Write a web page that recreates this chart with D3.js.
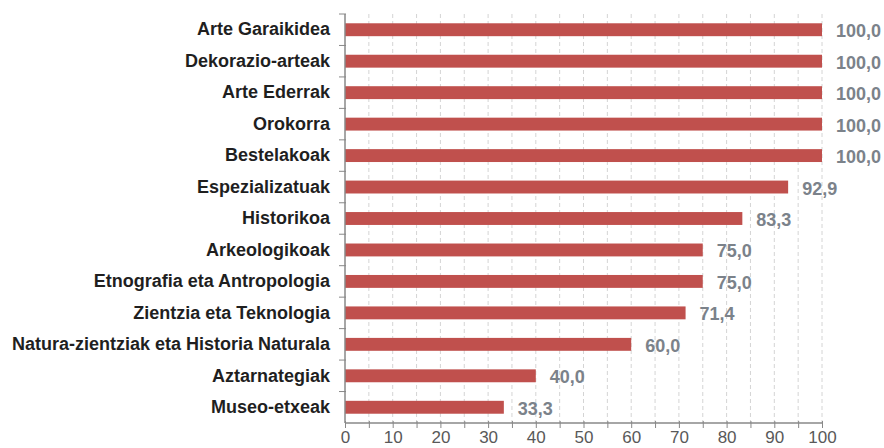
<!DOCTYPE html>
<html>
<head>
<meta charset="utf-8">
<script src="https://cdn.jsdelivr.net/npm/d3@7"></script>
<style>
  body { margin: 0; background: #fff; }
  svg { display: block; font-family: "Liberation Sans", Arial, sans-serif; }
</style>
</head>
<body>
<svg width="884" height="448"></svg>
<script>
// categories, top to bottom
var categories = [
    'Arte Garaikidea', 'Dekorazio-arteak', 'Arte Ederrak', 'Orokorra',
    'Bestelakoak', 'Espezializatuak', 'Historikoa', 'Arkeologikoak',
    'Etnografia eta Antropologia', 'Zientzia eta Teknologia',
    'Natura-zientziak eta Historia Naturala', 'Aztarnategiak', 'Museo-etxeak'
];
var values = [100, 100, 100, 100, 100, 92.9, 83.3, 75, 75, 71.4, 60, 40, 33.3];
var xTicks = [0, 10, 20, 30, 40, 50, 60, 70, 80, 90, 100];

var svg = d3.select('svg');
var padding = {t: 14, l: 345, r: 62, b: 25};
var chartWidth = +svg.attr('width') - padding.l - padding.r;
var chartHeight = +svg.attr('height') - padding.t - padding.b;

var chartG = svg.append('g')
    .attr('transform', 'translate(' + [padding.l, padding.t] + ')');

var x = d3.scaleLinear().domain([0, 100]).range([0, chartWidth]);
var y = d3.scaleBand().domain(categories).range([0, chartHeight]).paddingInner(0.59).paddingOuter(0.295);

// dashed grid every 5
chartG.selectAll('.grid')
    .data(d3.range(5, 101, 5))
    .enter().append('line')
    .attr('class', 'grid')
    .attr('x1', function(d) { return x(d); })
    .attr('x2', function(d) { return x(d); })
    .attr('y1', 0)
    .attr('y2', chartHeight)
    .attr('stroke', '#d4d4d4')
    .attr('stroke-dasharray', '4,3');

// bars
chartG.selectAll('.bar')
    .data(values)
    .enter().append('rect')
    .attr('class', 'bar')
    .attr('x', 0)
    .attr('y', function(d, i) { return y(categories[i]); })
    .attr('width', function(d) { return x(d); })
    .attr('height', y.bandwidth())
    .attr('fill', '#c0504d');

// value labels
chartG.selectAll('.val')
    .data(values)
    .enter().append('text')
    .attr('class', 'val')
    .attr('x', function(d) { return x(d) + 14; })
    .attr('y', function(d, i) { return y(categories[i]) + y.bandwidth() / 2 + 1; })
    .attr('dy', '0.36em')
    .attr('font-size', 18)
    .attr('font-weight', 'bold')
    .attr('fill', '#7b828a')
    .text(function(d) { return d3.format('.1f')(d).replace('.', ','); });

// x axis
var xAxis = d3.axisBottom(x)
    .tickValues(d3.range(0, 101, 5))
    .tickSize(5)
    .tickFormat(function(d) { return xTicks.indexOf(d) >= 0 ? d : ''; });
var xg = chartG.append('g')
    .attr('transform', 'translate(' + [0, chartHeight] + ')')
    .call(xAxis);
xg.select('.domain').attr('stroke', '#888').attr('stroke-width', 1.5).attr('d', 'M0,0H' + chartWidth);
xg.selectAll('.tick line').attr('stroke', '#888').attr('y1', -2);
xg.selectAll('.tick text')
    .attr('y', 8)
    .attr('font-size', 17)
    .attr('fill', '#595959');

// y axis
var yAxis = d3.axisLeft(y).tickSize(0);
var yg = chartG.append('g').call(yAxis);
yg.select('.domain').attr('stroke', '#888').attr('stroke-width', 1.5).attr('d', 'M0,0V' + chartHeight);
yg.selectAll('.tick text')
    .attr('x', -15)
    .attr('font-size', 18)
    .attr('font-weight', 'bold')
    .attr('fill', '#1f1f1f');

// band separators on the y axis
var step = y.step();
chartG.selectAll('.ysep')
    .data(d3.range(categories.length))
    .enter().append('line')
    .attr('class', 'ysep')
    .attr('x1', -6).attr('x2', 1)
    .attr('y1', function(d) { return d * step; })
    .attr('y2', function(d) { return d * step; })
    .attr('stroke', '#888');
</script>
</body>
</html>
